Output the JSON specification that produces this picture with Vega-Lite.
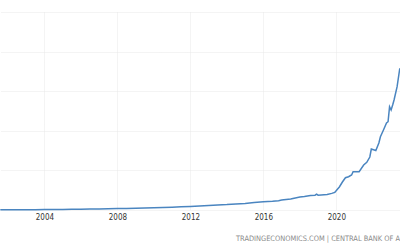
{
  "$schema": "https://vega.github.io/schema/vega-lite/v6.json",
  "width": 400,
  "height": 198,
  "autosize": {"type": "none"},
  "padding": {"top": 12, "left": 0, "right": 0, "bottom": 40},
  "background": "#ffffff",
  "config": {"view": {"stroke": null}},
  "title": {
    "text": "TRADINGECONOMICS.COM | CENTRAL BANK OF A",
    "orient": "bottom",
    "anchor": "end",
    "frame": "group",
    "offset": 14,
    "font": "DejaVu Sans Condensed",
    "fontSize": 7.4,
    "fontWeight": "normal",
    "color": "#8a8a8a"
  },
  "data": {
    "values": [
      {"date": "2001-08-01", "value": 25},
      {"date": "2002-01-01", "value": 26},
      {"date": "2002-07-01", "value": 30},
      {"date": "2003-01-01", "value": 38},
      {"date": "2003-07-01", "value": 44},
      {"date": "2004-01-01", "value": 51},
      {"date": "2004-07-01", "value": 63},
      {"date": "2005-01-01", "value": 76},
      {"date": "2005-07-01", "value": 88},
      {"date": "2006-01-01", "value": 101},
      {"date": "2006-07-01", "value": 113},
      {"date": "2007-01-01", "value": 126},
      {"date": "2007-07-01", "value": 150},
      {"date": "2008-01-01", "value": 177},
      {"date": "2008-07-01", "value": 195},
      {"date": "2009-01-01", "value": 215},
      {"date": "2009-07-01", "value": 245},
      {"date": "2010-01-01", "value": 278},
      {"date": "2010-07-01", "value": 315},
      {"date": "2011-01-01", "value": 354},
      {"date": "2011-07-01", "value": 398},
      {"date": "2012-01-01", "value": 442},
      {"date": "2012-07-01", "value": 505},
      {"date": "2013-01-01", "value": 556},
      {"date": "2013-07-01", "value": 631},
      {"date": "2014-01-01", "value": 682},
      {"date": "2014-07-01", "value": 758},
      {"date": "2015-01-01", "value": 833},
      {"date": "2015-07-01", "value": 934},
      {"date": "2016-01-01", "value": 1035},
      {"date": "2016-07-01", "value": 1098},
      {"date": "2016-11-01", "value": 1162},
      {"date": "2017-01-01", "value": 1263},
      {"date": "2017-07-01", "value": 1389},
      {"date": "2018-01-01", "value": 1641},
      {"date": "2018-04-01", "value": 1705},
      {"date": "2018-08-01", "value": 1818},
      {"date": "2018-11-01", "value": 1869},
      {"date": "2018-12-01", "value": 2000},
      {"date": "2019-01-01", "value": 1870},
      {"date": "2019-07-01", "value": 1957},
      {"date": "2019-10-01", "value": 2100},
      {"date": "2019-12-01", "value": 2230},
      {"date": "2020-01-01", "value": 2450},
      {"date": "2020-03-01", "value": 2904},
      {"date": "2020-05-01", "value": 3535},
      {"date": "2020-07-01", "value": 4078},
      {"date": "2020-09-01", "value": 4205},
      {"date": "2020-11-01", "value": 4419},
      {"date": "2020-12-01", "value": 4836},
      {"date": "2021-04-01", "value": 4836},
      {"date": "2021-07-01", "value": 5682},
      {"date": "2021-09-01", "value": 6023},
      {"date": "2021-11-01", "value": 6692},
      {"date": "2021-12-01", "value": 7702},
      {"date": "2022-03-01", "value": 7513},
      {"date": "2022-05-01", "value": 8460},
      {"date": "2022-06-01", "value": 9255},
      {"date": "2022-08-01", "value": 10101},
      {"date": "2022-10-01", "value": 10985},
      {"date": "2022-11-01", "value": 11149},
      {"date": "2022-12-01", "value": 13043},
      {"date": "2023-01-01", "value": 12626},
      {"date": "2023-02-01", "value": 13258},
      {"date": "2023-03-01", "value": 13889},
      {"date": "2023-05-01", "value": 15568},
      {"date": "2023-06-24", "value": 17891}
    ]
  },
  "mark": {"type": "line", "color": "#4a85c0", "strokeWidth": 1.5, "interpolate": "linear"},
  "encoding": {
    "x": {
      "field": "date",
      "type": "temporal",
      "scale": {"domain": ["2001-07-26", "2023-06-28"]},
      "axis": {
        "title": null,
        "values": ["2004-01-01", "2008-01-01", "2012-01-01", "2016-01-01", "2020-01-01"],
        "format": "%Y",
        "domain": false,
        "ticks": false,
        "labelPadding": 3,
        "labelFont": "DejaVu Sans Condensed",
        "labelFontSize": 8,
        "labelColor": "#333333",
        "gridColor": "#e8e8e8",
        "gridDash": [1, 1],
        "gridWidth": 1
      }
    },
    "y": {
      "field": "value",
      "type": "quantitative",
      "scale": {"domain": [0, 25000], "nice": false},
      "axis": {
        "title": null,
        "orient": "right",
        "values": [0, 5000, 10000, 15000, 20000, 25000],
        "labels": false,
        "ticks": false,
        "domain": false,
        "gridColor": "#e8e8e8",
        "gridDash": [1, 1],
        "gridWidth": 1
      }
    }
  }
}
